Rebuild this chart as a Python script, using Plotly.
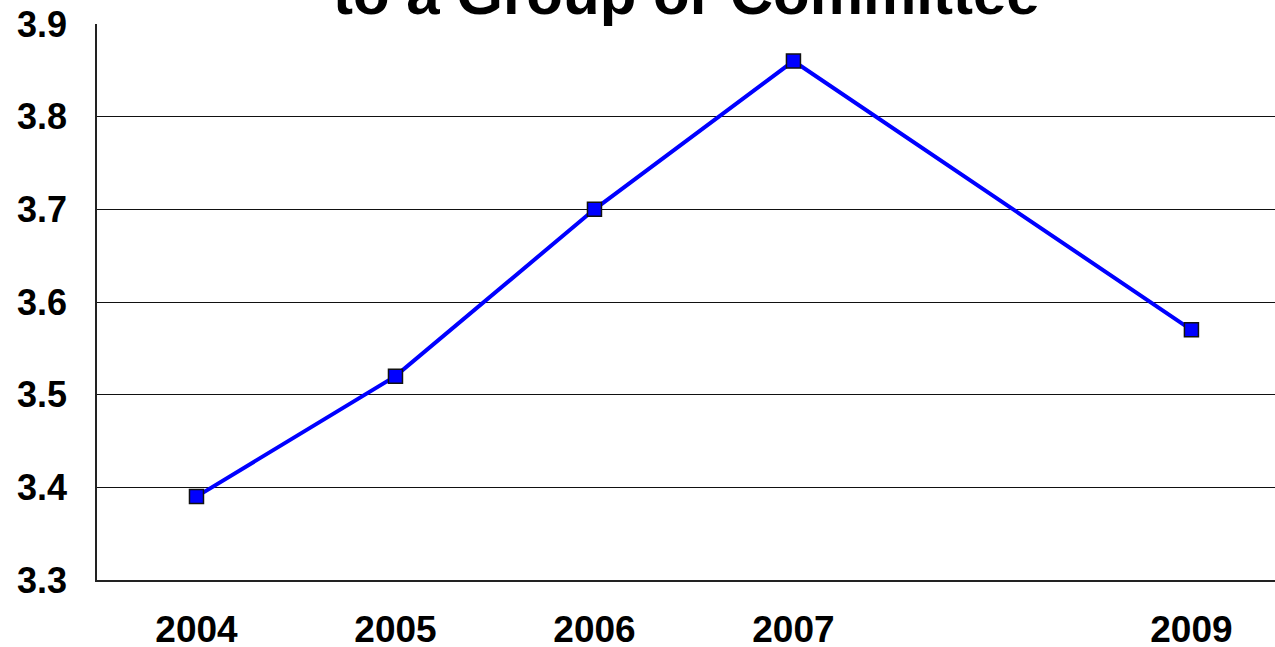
import plotly.graph_objects as go

years = [2004, 2005, 2006, 2007, 2009]
tick_labels = ["2004", "2005", "2006", "2007", "2009"]
values = [3.39, 3.52, 3.70, 3.86, 3.57]
title_text = "to a Group or Committee"

fig = go.Figure()
fig.add_trace(go.Scatter(
    x=years, y=values, mode="lines+markers",
    line=dict(color="#0000FF", width=4),
    marker=dict(symbol="square", size=14, color="#0000FF",
                line=dict(color="#111111", width=1.5)),
    showlegend=False,
))

font_family = "Liberation Sans, Arial, sans-serif"
fig.update_layout(
    width=1275, height=647,
    margin=dict(l=97, r=0, t=24, b=67),
    paper_bgcolor="white", plot_bgcolor="white",
    font=dict(family=font_family, color="black"),
    xaxis=dict(
        range=[2003.5, 2009.42],
        tickvals=years, ticktext=[f"<b>{t}</b>" for t in tick_labels],
        tickfont=dict(size=37, family=font_family),
        showgrid=False, zeroline=False,
        showline=True, linecolor="#222222", linewidth=1.5,
        ticks="", ticklabelstandoff=16, automargin=False,
        ticklabeloverflow="allow",
    ),
    yaxis=dict(
        range=[3.3, 3.9], dtick=0.1, tick0=3.3, tickformat=".1f",
        tickfont=dict(size=36, family=font_family),
        showgrid=True, gridcolor="#111111", gridwidth=1,
        zeroline=False,
        showline=True, linecolor="#222222", linewidth=1.5,
        ticks="", ticklabelstandoff=21, automargin=False,
        ticklabeloverflow="allow",
    ),
    annotations=[dict(
        text=f"<b>{title_text}</b>", xref="paper", yref="paper",
        x=0.5, y=1.0555, xanchor="center", yanchor="middle",
        showarrow=False, font=dict(size=60, family=font_family, color="black"),
    )],
)
fig.update_yaxes(tickprefix="<b>", ticksuffix="</b>")
fig.write_html(
    "out.html",
    config={"displayModeBar": False},
    post_script="document.body.style.margin='0';document.body.style.overflow='hidden';",
)
